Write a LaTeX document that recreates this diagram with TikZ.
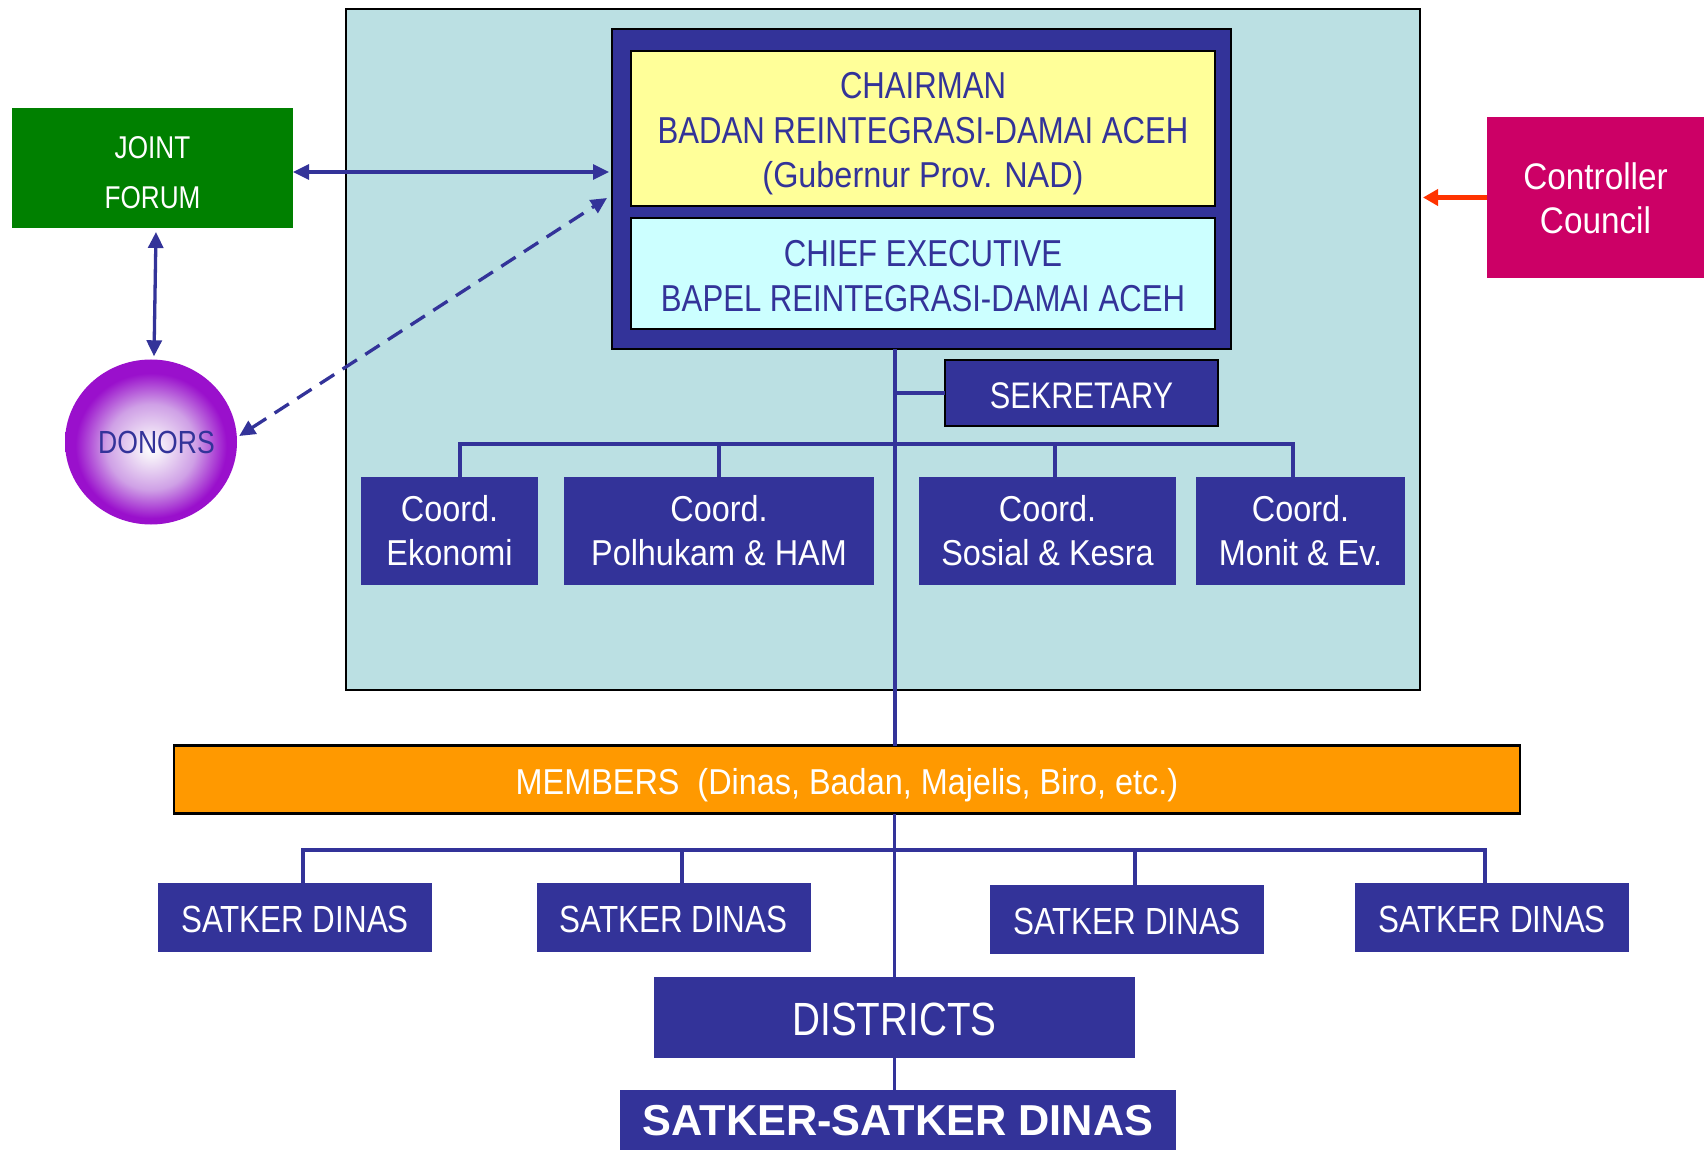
\documentclass[tikz,border=0pt]{standalone}
\usepackage{fontspec}
\setmainfont[FakeStretch=0.83]{Liberation Sans}
\newfontfamily\mixf[FakeStretch=0.9]{Liberation Sans}
\newfontfamily\widef{Liberation Sans}
\usetikzlibrary{shapes.geometric,arrows.meta}
\definecolor{navy}{HTML}{333399}
\definecolor{panelblue}{HTML}{BBE0E3}
\definecolor{chairyellow}{HTML}{FFFF99}
\definecolor{chiefcyan}{HTML}{CCFFFF}
\definecolor{forumgreen}{HTML}{008000}
\definecolor{ctrlpink}{HTML}{CC0066}
\definecolor{memorange}{HTML}{FF9900}
\definecolor{arrowred}{HTML}{FF3300}
\definecolor{dpurple}{HTML}{9A10CC}
\definecolor{dmid}{HTML}{CFA0E6}
\definecolor{dlight}{HTML}{F4ECF8}
\pgfdeclareradialshading{donorshade}{\pgfpoint{0bp}{-2bp}}{color(0bp)=(white); color(3bp)=(dlight); color(13bp)=(dmid); color(22bp)=(dpurple); color(25bp)=(dpurple); color(50bp)=(dpurple)}
\newcommand{\myfs}[2]{\fontsize{#1}{#2}\selectfont}
\newcommand{\lowr}[2]{\raisebox{-#1pt}[\height][\depth]{#2}}
\newcommand{\nodp}[2]{\raisebox{-#1pt}[\height][0pt]{#2}}
\tikzset{
  box/.style={inner sep=0pt, outer sep=0pt, align=center, text=white},
  navybox/.style={box, fill=navy},
  conn/.style={draw=navy, line width=3.5pt},
  tipA/.tip={Triangle[length=16pt,width=15pt]},
  biarrow/.style={draw=navy, line width=3.3pt, tipA-tipA},
  redarrow/.style={draw=arrowred, line width=4.2pt, -{Triangle[length=15pt,width=16pt]}},
}
\begin{document}
\begin{tikzpicture}[x=1pt,y=-1pt]
\useasboundingbox (0,0) rectangle (1706,1150);
\fill[white] (0,0) rectangle (1706,1150);

% main panel
\node[box, fill=panelblue, draw=black, line width=1.5pt, minimum width=1074pt, minimum height=681pt] (panel) at (883,349.5) {};

% chairman container
\node[box, fill=navy, draw=black, line width=2pt, minimum width=619pt, minimum height=320pt] (outer) at (921.5,189) {};
\node[box, fill=chairyellow, draw=black, line width=2.5pt, text=navy, minimum width=584pt, minimum height=155pt, font=\myfs{37.5}{44.5}] (chair) at (923,128.5) {\lowr{1.5}{CHAIRMAN}\\\lowr{1.5}{BADAN REINTEGRASI-DAMAI ACEH}\\\nodp{1.5}{\mixf\myfs{36}{44.5}(Gubernur Prov. NAD)}};
\node[box, fill=chiefcyan, draw=black, line width=2.5pt, text=navy, minimum width=584pt, minimum height=111pt, font=\myfs{37.5}{45}] (chief) at (923,273.5) {\lowr{2.2}{CHIEF EXECUTIVE}\\\lowr{2.2}{BAPEL REINTEGRASI-DAMAI ACEH}};

% joint forum
\node[box, fill=forumgreen, minimum width=281pt, minimum height=120pt] (joint) at (152.5,168) {};
\node[box, font=\myfs{31.5}{50}] (jointlbl) at (152.5,173) {JOINT\\FORUM};

% donors
\node[ellipse, inner sep=0pt, minimum width=172pt, minimum height=165pt, shading=donorshade, text=navy, font=\myfs{32}{36}] (donors) at (151,442) {\makebox[0pt][c]{\hspace*{11pt}DONORS}};

% controller council
\node[box, fill=ctrlpink, minimum width=217pt, minimum height=161pt, font=\mixf\myfs{37}{44}] (ctrl) at (1595.5,197.5) {\lowr{1}{Controller}\\\lowr{1}{Council}};

% sekretary
\node[navybox, draw=black, line width=2pt, minimum width=273pt, minimum height=66pt, font=\myfs{37}{44}] (sek) at (1081.5,393) {\lowr{2.5}{SEKRETARY}};

% coordinators
\tikzset{coordbox/.style={navybox, minimum height=108pt, font=\mixf\myfs{36}{44}}}
\node[coordbox, minimum width=177pt] (ceko) at (449.5,531) {Coord.\\Ekonomi};
\node[coordbox, minimum width=310pt] (cpol) at (719,531) {Coord.\\Polhukam \& HAM};
\node[coordbox, minimum width=257pt] (csos) at (1047.5,531) {Coord.\\Sosial \& Kesra};
\node[coordbox, minimum width=209pt] (cmon) at (1300.5,531) {Coord.\\Monit \& Ev.};

% members
\node[box, fill=memorange, draw=black, line width=2.5pt, minimum width=1346pt, minimum height=68pt, font=\mixf\myfs{36}{44}] (members) at (847,779.5) {\nodp{1.5}{MEMBERS\ \ (Dinas, Badan, Majelis, Biro, etc.)}};

% satker dinas
\tikzset{satbox/.style={navybox, minimum width=274pt, minimum height=69pt, font=\myfs{37.8}{44}}}
\node[satbox] (s1) at (295,917.5) {\lowr{2}{SATKER DINAS}};
\node[satbox] (s2) at (673.5,917.5) {\lowr{2}{SATKER DINAS}};
\node[satbox] (s3) at (1127,919.5) {\lowr{2}{SATKER DINAS}};
\node[satbox] (s4) at (1492,917.5) {\lowr{2}{SATKER DINAS}};

% districts
\node[navybox, minimum width=481pt, minimum height=81pt, font=\myfs{46.6}{50}] (districts) at (894.5,1017.5) {\lowr{2}{DISTRICTS}};
\node[navybox, minimum width=556pt, minimum height=60pt, font=\widef\bfseries\myfs{43.3}{48}] (satsat) at (898,1120) {\lowr{1}{SATKER-SATKER DINAS}};

% connectors
\coordinate (ttop) at ([xshift=-26.5pt]outer.south);
\draw[conn] (ttop) -- (ttop |- members.north);
\draw[conn] (sek.west) -- (sek.west -| ttop);
\draw[conn] ([xshift=10.5pt]ceko.north) -- ++(0,-33) -| ([xshift=-7.5pt]cmon.north);
\draw[conn] (cpol.north) -- ++(0,-33);
\draw[conn] ([xshift=7.5pt]csos.north) -- ++(0,-33);
\draw[conn] (districts.north) -- (districts.north |- members.south);
\draw[conn] (districts.south) -- (districts.south |- satsat.north);
\draw[conn] ([xshift=8pt]s1.north) -- ++(0,-33) -| ([xshift=-7pt]s4.north);
\draw[conn] ([xshift=8.5pt]s2.north) -- ++(0,-33);
\draw[conn] ([xshift=8pt]s3.north) -- ++(0,-35);

% arrows
\draw[biarrow] ([yshift=-4pt]joint.east) -- ([xshift=-3pt,yshift=-4pt]joint.east -| outer.west);
\draw[biarrow] ([xshift=3.5pt,yshift=-4pt]joint.south) -- ([xshift=3pt,yshift=3pt]donors.north);
\draw[biarrow, dash pattern=on 17pt off 10pt] ([xshift=2pt,yshift=6pt]donors.east) -- ([xshift=-5pt,yshift=-9pt]outer.west);
\draw[redarrow] (ctrl.west) -- ([xshift=3pt]ctrl.west -| panel.east);
\end{tikzpicture}
\end{document}
